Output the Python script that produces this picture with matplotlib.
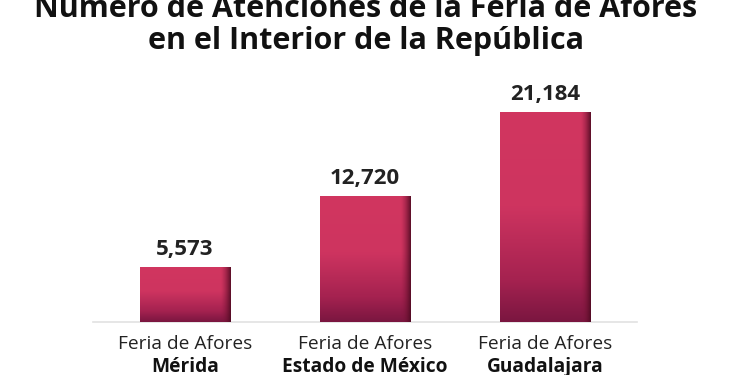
import numpy as np
import matplotlib
matplotlib.use('Agg')
import matplotlib.pyplot as plt
from matplotlib.colors import LinearSegmentedColormap

# data
ferias = ['Mérida', 'Estado de México', 'Guadalajara']
atenciones = [5573, 12720, 21184]
titulo = 'Número de Atenciones de la Feria de Afores\nen el Interior de la República'

plt.rcParams['font.family'] = ['Open Sans', 'DejaVu Sans']

fig = plt.figure(figsize=(7.5, 3.75), dpi=100)
ax = fig.add_axes([0.124, 0.1413, 0.725, 0.66])

x = np.arange(len(ferias))
bars = ax.bar(x, atenciones, width=0.5, color='#cf3560', zorder=2)

# vertical gradient: flat on top, darker toward the bottom
vgrad = LinearSegmentedColormap.from_list(
    'vg', [(0.0, '#d1365f'), (0.45, '#ce3460'), (0.8, '#a52250'),
           (1.0, '#7a1640')])
# right-edge shadow
hgrad = LinearSegmentedColormap.from_list(
    'hg', [(0.55, 0.1, 0.25, 0.0), (0.3, 0.04, 0.13, 0.9)])

for b in bars:
    x0, w, h = b.get_x(), b.get_width(), b.get_height()
    g = np.linspace(0, 1, 256).reshape(-1, 1)
    im = ax.imshow(g, cmap=vgrad, aspect='auto', origin='upper',
                   extent=(x0, x0 + w, 0, h), zorder=3)
    im.set_clip_path(b)
    s = np.linspace(0, 1, 64).reshape(1, -1)
    sh = ax.imshow(s, cmap=hgrad, aspect='auto',
                   extent=(x0 + w * 0.9, x0 + w, 0, h), zorder=4)
    sh.set_clip_path(b)
    ax.text(b.get_x() + w / 2, h + 700, f'{h:,.0f}', ha='center',
            va='bottom', fontsize=16, fontweight='bold', color='#222222')

ax.set_xlim(-0.51, 2.51)
ax.set_ylim(0, 25000)
ax.set_yticks([])
ax.set_xticks(x)
ax.set_xticklabels(['' for _ in ferias])
ax.tick_params(axis='x', length=0)
for sp in ['top', 'right', 'left']:
    ax.spines[sp].set_visible(False)
ax.spines['bottom'].set_color('#e2e2e2')
ax.spines['bottom'].set_linewidth(1.2)

for xi, nombre in zip(x, ferias):
    ax.annotate('Feria de Afores', (xi, 0), xytext=(0, -9),
                textcoords='offset points', ha='center', va='top',
                fontsize=13.8, color='#222222')
    ax.annotate(nombre, (xi, 0), xytext=(0, -25),
                textcoords='offset points', ha='center', va='top',
                fontsize=13.8, fontweight='bold', color='#111111')

fig.text(0.488, 0.933, titulo, ha='center', va='center', fontsize=22,
         fontweight='bold', color='#111111', linespacing=1.1)

fig.savefig('out.png', dpi=100)
